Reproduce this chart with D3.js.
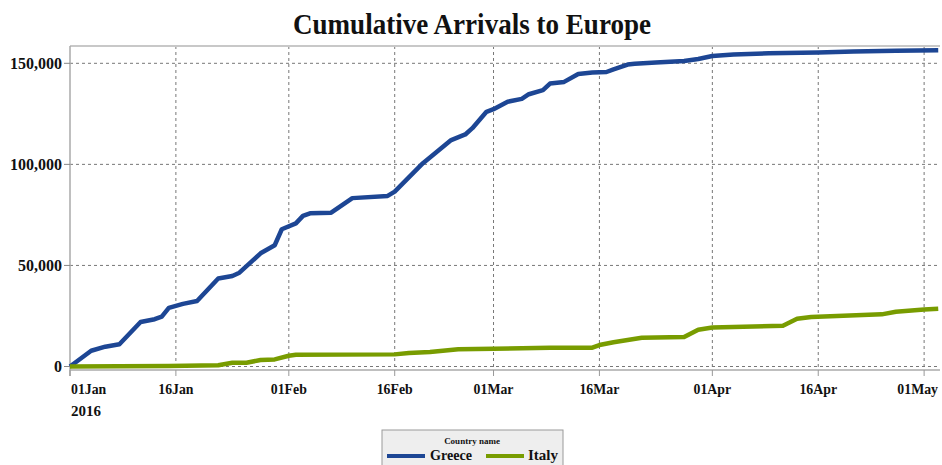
<!DOCTYPE html>
<html>
<head>
<meta charset="utf-8">
<script src="https://cdn.jsdelivr.net/npm/d3@7"></script>
<style>
  body { margin: 0; background: #fff; }
  svg text { font-family: "Liberation Serif", "Times New Roman", serif; font-weight: bold; fill: #111; }
</style>
</head>
<body>
<svg id="chart" width="942" height="465"></svg>
<script>
// Cumulative arrivals
const greeceDates = ["2016-01-01","2016-01-04","2016-01-06","2016-01-08","2016-01-11","2016-01-13","2016-01-14",
  "2016-01-15","2016-01-17","2016-01-19","2016-01-22","2016-01-24","2016-01-25","2016-01-28","2016-01-30",
  "2016-01-31","2016-02-02","2016-02-03","2016-02-04","2016-02-07","2016-02-10","2016-02-15","2016-02-16",
  "2016-02-20","2016-02-24","2016-02-26","2016-02-27","2016-02-29","2016-03-01","2016-03-03","2016-03-05",
  "2016-03-06","2016-03-08","2016-03-09","2016-03-11","2016-03-13","2016-03-15","2016-03-17","2016-03-18",
  "2016-03-20","2016-03-21","2016-03-24","2016-03-28","2016-03-30","2016-04-01","2016-04-04","2016-04-09",
  "2016-04-16","2016-04-21","2016-04-27","2016-05-03"];
const greeceValues = [0,7800,9800,11000,22000,23400,24700,
  29000,31000,32400,43500,44800,46400,56000,60000,
  67900,70800,74500,75800,76100,83300,84400,86500,
  100600,112000,114800,117900,126000,127300,131000,132400,
  134700,136700,140000,140800,144700,145400,145700,147000,
  149400,149800,150400,151100,152100,153600,154300,155000,
  155300,155800,156200,156500];

const italyDates = ["2016-01-01","2016-01-15","2016-01-22","2016-01-24","2016-01-26","2016-01-28","2016-01-30",
  "2016-02-01","2016-02-02","2016-02-16","2016-02-18","2016-02-21","2016-02-25","2016-03-01","2016-03-09",
  "2016-03-15","2016-03-16","2016-03-18","2016-03-22","2016-03-28","2016-03-30","2016-04-01","2016-04-11",
  "2016-04-13","2016-04-15","2016-04-25","2016-04-27","2016-05-01","2016-05-03"];
const italyValues = [0,200,600,1900,1900,3200,3500,
  5300,5800,6000,6700,7200,8500,8800,9300,
  9300,10600,12000,14200,14600,18200,19300,20200,
  23600,24500,25800,27100,28200,28600];

const seriesNames = ["Greece", "Italy"];
const seriesColors = ["#1d4694", "#789c00"];
const xTickDates = ["2016-01-01","2016-01-16","2016-02-01","2016-02-16","2016-03-01","2016-03-16","2016-04-01","2016-04-16","2016-05-01"];
const yTicks = [0, 50000, 100000, 150000];

const parse = d3.utcParse("%Y-%m-%d");
const series = [
  greeceDates.map((d, i) => ({date: parse(d), value: greeceValues[i]})),
  italyDates.map((d, i) => ({date: parse(d), value: italyValues[i]}))
];

const margin = {top: 46, right: 2, bottom: 95, left: 70};
const W = 942, H = 465;
const width = W - margin.left - margin.right;
const height = H - margin.top - margin.bottom;

const svg = d3.select("#chart");
const g = svg.append("g").attr("transform", `translate(${margin.left},${margin.top})`);

const x = d3.scaleUtc()
  .domain([parse("2016-01-01"), d3.utcParse("%Y-%m-%dT%H:%M")("2016-05-03T06:00")])
  .range([0, width]);
const y = d3.scaleLinear().domain([-1730, 158560]).range([height, 0]);

// title
svg.append("text")
  .attr("x", 472).attr("y", 34)
  .attr("text-anchor", "middle")
  .style("font-size", "29px")
  .attr("textLength", 358).attr("lengthAdjust", "spacingAndGlyphs")
  .text("Cumulative Arrivals to Europe");

// grid
g.append("g").selectAll("line").data(yTicks).join("line")
  .attr("x1", 0).attr("x2", width)
  .attr("y1", d => y(d)).attr("y2", d => y(d))
  .attr("stroke", "#777").attr("stroke-dasharray", "3,3").attr("stroke-width", 1);
g.append("g").selectAll("line").data(xTickDates.slice(1)).join("line")
  .attr("x1", d => x(parse(d))).attr("x2", d => x(parse(d)))
  .attr("y1", 0).attr("y2", height)
  .attr("stroke", "#777").attr("stroke-dasharray", "3,3").attr("stroke-width", 1);

// frame
g.append("line").attr("x1", 0).attr("x2", width).attr("y1", 0).attr("y2", 0)
  .attr("stroke", "#c8c8c8").attr("stroke-width", 2);
g.append("line").attr("x1", 0).attr("x2", 0).attr("y1", 0).attr("y2", height + 6)
  .attr("stroke", "#aaa").attr("stroke-width", 1.5);
g.append("line").attr("x1", 0).attr("x2", width).attr("y1", height).attr("y2", height)
  .attr("stroke", "#aaa").attr("stroke-width", 1.5);

// y axis (labels stretched to the wider Times-like widths of the original)
const yAxis = g.append("g").selectAll("g").data(yTicks).join("g")
  .attr("transform", d => `translate(0,${y(d)})`);
yAxis.append("line").attr("x1", -6).attr("x2", 0).attr("stroke", "#888");
yAxis.append("text")
  .attr("x", -8).attr("dy", "0.36em")
  .attr("text-anchor", "end")
  .style("font-size", "16px")
  .text(d => d3.format(",")(d))
  .each(function() {
    const s = this.textContent;
    const commas = s.split(",").length - 1;
    const w = (s.length - commas) * 8 + commas * 4;
    d3.select(this).attr("textLength", w).attr("lengthAdjust", "spacingAndGlyphs");
  });

// x axis
const fmt = d3.utcFormat("%d%b");
const xAxis = g.append("g").attr("transform", `translate(0,${height})`);
xAxis.selectAll("line").data(xTickDates).join("line")
  .attr("x1", d => x(parse(d))).attr("x2", d => x(parse(d)))
  .attr("y1", 0).attr("y2", 6).attr("stroke", "#999");
xAxis.selectAll("text.tick").data(xTickDates).join("text")
  .attr("class", "tick")
  .attr("y", 24)
  .style("font-size", "15px")
  .attr("text-anchor", "middle")
  .text(d => fmt(parse(d)))
  .each(function(d) {
    const w = this.getComputedTextLength() * 0.92;
    d3.select(this).attr("textLength", w).attr("lengthAdjust", "spacingAndGlyphs");
    let cx = x(parse(d));
    cx = Math.max(w / 2 + 1, Math.min(width - 2 - w / 2, cx));
    d3.select(this).attr("x", cx);
  });
xAxis.append("text")
  .attr("x", 1).attr("y", 46)
  .style("font-size", "15px")
  .text("2016");

// lines
const line = d3.line().x(d => x(d.date)).y(d => y(d.value));
g.append("g").selectAll("path").data(series).join("path")
  .attr("d", line)
  .attr("fill", "none")
  .attr("stroke", (d, i) => seriesColors[i])
  .attr("stroke-width", 4.5)
  .attr("stroke-linejoin", "round");

// legend
const lg = svg.append("g").attr("transform", "translate(382,430)");
lg.append("rect").attr("width", 181).attr("height", 40)
  .attr("fill", "#eeeeee").attr("stroke", "#9a9a9a").attr("stroke-width", 1);
lg.append("text").attr("x", 90).attr("y", 14)
  .attr("text-anchor", "middle").style("font-size", "9px")
  .text("Country name");
const items = [{x: 5, tx: 48, tw: 42}, {x: 104, tx: 146, tw: 30}];
seriesNames.forEach((name, i) => {
  lg.append("line").attr("x1", items[i].x).attr("x2", items[i].x + 38)
    .attr("y1", 26).attr("y2", 26)
    .attr("stroke", seriesColors[i]).attr("stroke-width", 4);
  lg.append("text").attr("x", items[i].tx).attr("y", 30)
    .style("font-size", "15px")
    .attr("textLength", items[i].tw).attr("lengthAdjust", "spacingAndGlyphs")
    .text(name);
});
</script>
</body>
</html>
